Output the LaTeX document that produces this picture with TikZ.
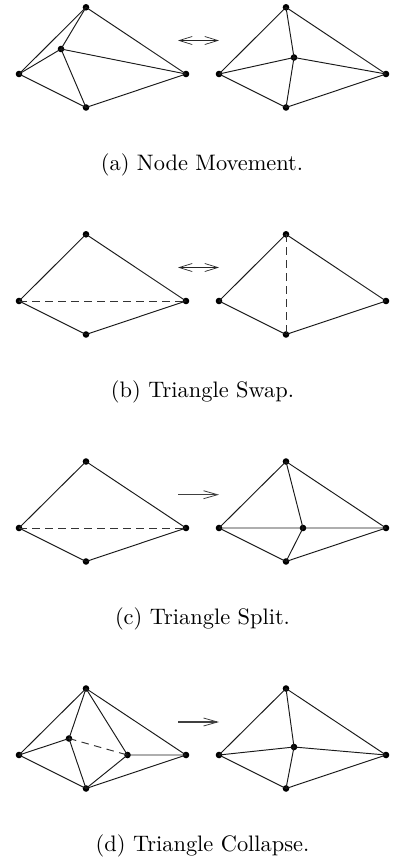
\documentclass[tikz,border=0pt]{standalone}
\usetikzlibrary{arrows.meta}
\tikzset{
  vtx/.style={circle,fill=black,inner sep=0pt,minimum size=6.6pt},
  edge/.style={line width=0.95pt,black!90},
  dash edge/.style={line width=0.95pt,black!80,dash pattern=on 7.5pt off 5.5pt},
  capt/.style={inner sep=0pt,anchor=base,scale=2.24,transform shape,font=\fontsize{10}{12}\selectfont},
  biarrow/.style={line width=0.6pt,black!85,{Straight Barb[length=13pt,width=8pt,line width=0.7pt]}-{Straight Barb[length=13pt,width=8pt,line width=0.7pt]}},
  oneway/.style={line width=1.1pt,black!75,-{Straight Barb[length=14pt,width=8pt,line width=0.8pt]}}
}
\begin{document}
\begin{tikzpicture}[x=1pt,y=-1pt]
\useasboundingbox (0,0) rectangle (401,860);
% (a)
\node[vtx] (at) at (86,7.3) {}; \node[vtx] (al) at (19,74) {}; \node[vtx] (ar) at (186,74) {}; \node[vtx] (ab) at (86,107.5) {}; \node[vtx] (ac) at (61,49) {};
\node[vtx] (At) at (286,7.3) {}; \node[vtx] (Al) at (219,74) {}; \node[vtx] (Ar) at (386,74) {}; \node[vtx] (Ab) at (286,107.5) {}; \node[vtx] (Ac) at (294,57.5) {};
\draw[edge] (at.center)--(al.center)--(ab.center)--(ar.center)--(at.center);
\draw[edge] (at.center)--(ac.center) (al.center)--(ac.center) (ar.center)--(ac.center) (ab.center)--(ac.center);
\draw[edge] (At.center)--(Al.center)--(Ab.center)--(Ar.center)--(At.center);
\draw[edge] (At.center)--(Ac.center) (Al.center)--(Ac.center) (Ar.center)--(Ac.center) (Ab.center)--(Ac.center);
\coordinate (a1) at (178,40.5); \coordinate (a2) at (219,40.5);
\draw[biarrow] (a1)--(a2);
\node[capt] (ca) at (202,170) {(a) Node Movement.};
% (b)
\node[vtx] (bt) at (86,234.3) {}; \node[vtx] (bl) at (19,301) {}; \node[vtx] (br) at (186,301) {}; \node[vtx] (bb) at (86,334.5) {};
\node[vtx] (Bt) at (286,234.3) {}; \node[vtx] (Bl) at (219,301) {}; \node[vtx] (Br) at (386,301) {}; \node[vtx] (Bb) at (286,334.5) {};
\draw[edge] (bt.center)--(bl.center)--(bb.center)--(br.center)--(bt.center);
\draw[dash edge] (bl.center)--(br.center);
\draw[edge] (Bt.center)--(Bl.center)--(Bb.center)--(Br.center)--(Bt.center);
\draw[dash edge] (Bt.center)--(Bb.center);
\coordinate (b1) at (178,267.5); \coordinate (b2) at (219,267.5);
\draw[biarrow] (b1)--(b2);
\node[capt] (cb) at (202.5,397) {(b) Triangle Swap.};
% (c)
\node[vtx] (ct) at (86,461.5) {}; \node[vtx] (cl) at (19,528) {}; \node[vtx] (cr) at (186,528) {}; \node[vtx] (cb2) at (86,561.5) {};
\node[vtx] (Ct) at (286,461.5) {}; \node[vtx] (Cl) at (219,528) {}; \node[vtx] (Cr) at (386,528) {}; \node[vtx] (Cb) at (286,561.5) {}; \node[vtx] (Cc) at (303,528) {};
\draw[edge] (ct.center)--(cl.center)--(cb2.center)--(cr.center)--(ct.center);
\draw[dash edge] (cl.center)--(cr.center);
\draw[edge] (Ct.center)--(Cl.center)--(Cb.center)--(Cr.center)--(Ct.center);
\draw[edge] (Ct.center)--(Cc.center) (Cl.center)--(Cc.center) (Cr.center)--(Cc.center) (Cb.center)--(Cc.center);
\coordinate (c1) at (178,494.7); \coordinate (c2) at (219,494.7);
\draw[oneway] (c1)--(c2);
\node[capt] (cc) at (202.5,624) {(c) Triangle Split.};
% (d)
\node[vtx] (dt) at (86,688.5) {}; \node[vtx] (dl) at (19,755) {}; \node[vtx] (dr) at (186,755) {}; \node[vtx] (db) at (86,788.5) {}; \node[vtx] (dp) at (69,738.5) {}; \node[vtx] (dq) at (127.5,755) {};
\node[vtx] (Dt) at (286,688.5) {}; \node[vtx] (Dl) at (219,755) {}; \node[vtx] (Dr) at (386,755) {}; \node[vtx] (Db) at (286,788.5) {}; \node[vtx] (Dc) at (294,747) {};
\draw[edge] (dt.center)--(dl.center)--(db.center)--(dr.center)--(dt.center);
\draw[edge] (dt.center)--(dp.center) (dl.center)--(dp.center) (db.center)--(dp.center) (dt.center)--(dq.center) (dr.center)--(dq.center) (db.center)--(dq.center);
\draw[dash edge] (dp.center)--(dq.center);
\draw[edge] (Dt.center)--(Dl.center)--(Db.center)--(Dr.center)--(Dt.center);
\draw[edge] (Dt.center)--(Dc.center) (Dl.center)--(Dc.center) (Dr.center)--(Dc.center) (Db.center)--(Dc.center);
\coordinate (d1) at (178,722); \coordinate (d2) at (219,722);
\draw[oneway] (d1)--(d2);
\node[capt] (cd) at (202.5,851) {(d) Triangle Collapse.};
\end{tikzpicture}
\end{document}
